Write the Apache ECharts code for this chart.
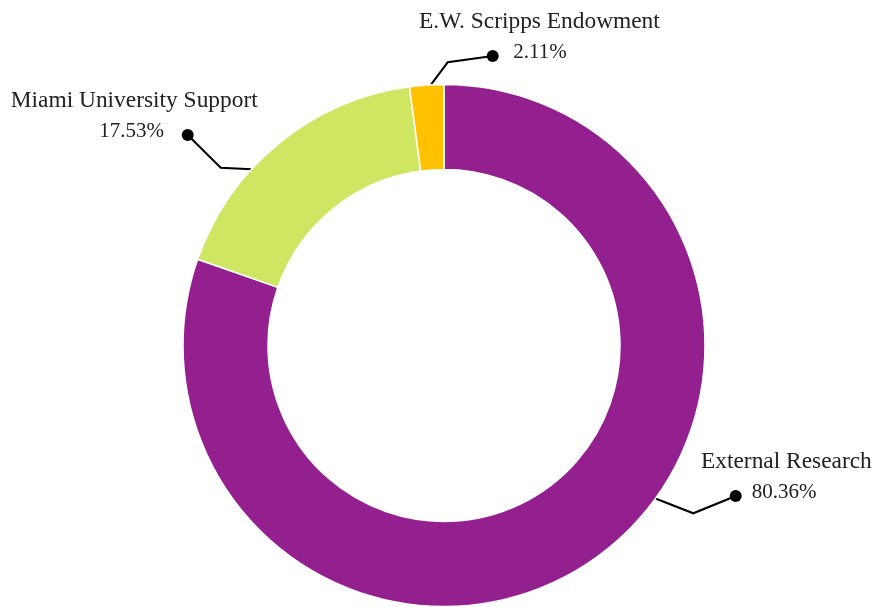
<!DOCTYPE html>
<html><head><meta charset="utf-8">
<script src="https://cdn.jsdelivr.net/npm/echarts@6/dist/echarts.min.js"></script>
<style>html,body{margin:0;padding:0;background:#fff}#c{width:875px;height:607px}</style>
</head><body><div id="c"></div>
<script>
const categories = ['External Research', 'Miami University Support', 'E.W. Scripps Endowment'];
const shares = [80.36, 17.53, 2.11];
const colors = ['#93208E', '#CEE662', '#FFC000'];

const CX = 444, CY = 345.5, R_IN = 176, R_OUT = 261;
const FONT = "'Liberation Serif', 'DejaVu Serif', serif";
// label placement (layout only)
const labelPlacement = {
  'External Research':        {x: 701,   y: 440, align: 'left',  lead: 28.7, gap: 10,   edgeAngle: 125.9, elbow: [693.3, 513.3]},
  'Miami University Support': {x: 257.7, y: 79,  align: 'right', lead: 64,   gap: 17.7, edgeAngle: 312.5, elbow: [220.7, 167.7]},
  'E.W. Scripps Endowment':   {x: 419,   y: 0,   align: 'left',  lead: 67.7, gap: 14.6, edgeAngle: 357.1, elbow: [447.7, 62.3]}
};

function richFor(p) {
  return {
    n: {fontFamily: FONT, fontSize: 23.4, color: '#222', lineHeight: 43},
    p: {fontFamily: FONT, fontSize: 21, color: '#222', lineHeight: 19},
    s: {width: p.lead, lineHeight: 19},
    g: {width: p.gap, lineHeight: 19},
    d: {width: 12, height: 12, borderRadius: 6, backgroundColor: '#000', verticalAlign: 'bottom', lineHeight: 19}
  };
}

const data = categories.map((name, i) => {
  const p = labelPlacement[name];
  return {
    name: name,
    value: shares[i],
    itemStyle: {color: colors[i]},
    label: {
      rich: richFor(p),
      formatter: (prm) => {
        const pct = prm.value.toFixed(2) + '%';
        return p.align === 'left'
          ? '{n|' + prm.name + '}\n{s|}{d|}{g|}{p|' + pct + '}'
          : '{n|' + prm.name + '}\n{p|' + pct + '}{g|}{d|}{s|}';
      }
    }
  };
});

const chart = echarts.init(document.getElementById('c'));
chart.setOption({
  animation: false,
  series: [{
    type: 'pie',
    center: [CX, CY],
    radius: [R_IN, R_OUT],
    startAngle: 90,
    clockwise: true,
    avoidLabelOverlap: false,
    itemStyle: {borderColor: '#fff', borderWidth: 1.5},
    emphasis: {disabled: true},
    label: {show: true, position: 'outside', fontFamily: FONT, fontSize: 22, color: '#222'},
    labelLine: {show: true, lineStyle: {color: '#000', width: 2}},
    labelLayout: function (params) {
      const name = categories[params.dataIndex];
      const p = labelPlacement[name];
      const a = p.edgeAngle * Math.PI / 180;
      const start = [CX + R_OUT * Math.sin(a), CY - R_OUT * Math.cos(a)];
      const dotX = p.align === 'left' ? p.x + p.lead + 6 : p.x - p.lead - 6;
      const dotY = p.y + 56;
      return {
        x: p.x, y: p.y, align: p.align, verticalAlign: 'top',
        labelLinePoints: [start, p.elbow, [dotX, dotY]]
      };
    },
    data: data
  }]
});
</script>
</body></html>
